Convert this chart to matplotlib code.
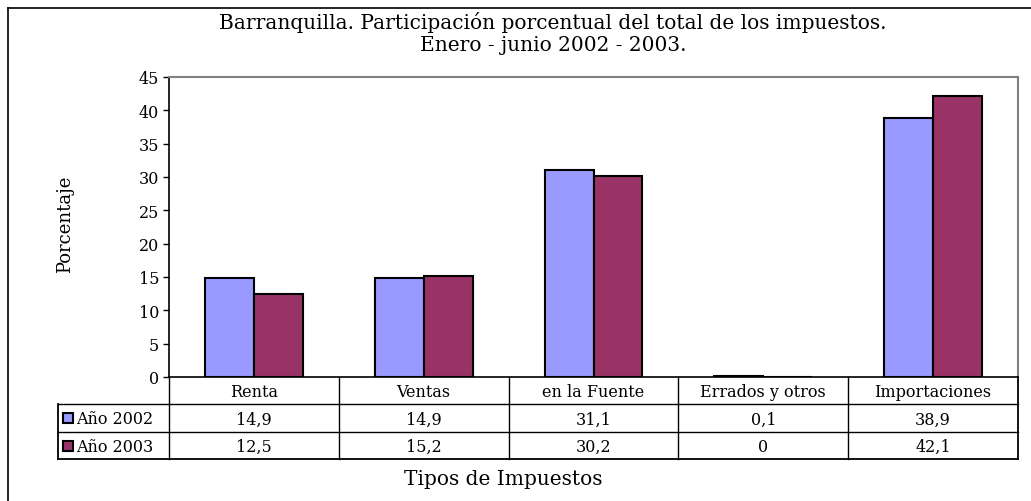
import matplotlib
matplotlib.use("Agg")
import matplotlib.pyplot as plt
from matplotlib.patches import Rectangle
from matplotlib.lines import Line2D
import numpy as np

categories = ["Renta", "Ventas", "en la Fuente", "Errados y otros", "Importaciones"]
series_names = ["Año 2002", "Año 2003"]
values_2002 = [14.9, 14.9, 31.1, 0.1, 38.9]
values_2003 = [12.5, 15.2, 30.2, 0.0, 42.1]
yticks = [0, 5, 10, 15, 20, 25, 30, 35, 40, 45]
title = "Barranquilla. Participación porcentual del total de los impuestos.\nEnero - junio 2002 - 2003."
ylabel = "Porcentaje"
xlabel = "Tipos de Impuestos"
colors = ["#9999FF", "#993366"]

W, H = 1031, 502
plt.rcParams['font.family'] = ['DejaVu Serif']
fig = plt.figure(figsize=(W / 100, H / 100), dpi=100)

def fx(px):
    return px / W

def fy(py):
    return 1 - py / H

# outer frame (right/bottom cut off in the reference)
fig.add_artist(Line2D([fx(8), fx(8)], [fy(9), fy(H + 5)], color="black", lw=1.2, transform=fig.transFigure))
fig.add_artist(Line2D([fx(8), fx(W + 5)], [fy(9), fy(9)], color="black", lw=1.2, transform=fig.transFigure))

ax_l, ax_r, ax_t, ax_b = 169, 1018, 78, 378
ax = fig.add_axes([fx(ax_l), fy(ax_b), fx(ax_r - ax_l), (ax_b - ax_t) / H])

x = np.arange(len(categories))
bw = 0.288
ax.bar(x - bw / 2, values_2002, bw, color=colors[0], edgecolor="black", linewidth=1.5, zorder=3)
ax.bar(x + bw / 2, values_2003, bw, color=colors[1], edgecolor="black", linewidth=1.5, zorder=3)
ax.set_xlim(-0.5, len(categories) - 0.5)
ax.set_ylim(0, 45)
ax.set_yticks(yticks)
ax.set_yticklabels([str(t) for t in yticks], fontsize=11.5)
ax.set_xticks([])
ax.tick_params(axis='y', direction='out', length=4, width=1, pad=3)
for s in ["top", "right"]:
    ax.spines[s].set_color("#808080")
    ax.spines[s].set_linewidth(1.5)
ax.spines["left"].set_color("black")
ax.spines["left"].set_linewidth(1.2)
ax.spines["bottom"].set_color("black")
ax.spines["bottom"].set_linewidth(1.2)

# title and axis labels
fig.text(fx(553), fy(34), title, ha="center", va="center", fontsize=14.5, linespacing=1.2)
fig.text(fx(65), fy(224), ylabel, ha="center", va="center", rotation=90, fontsize=13)
fig.text(fx(503), fy(480), xlabel, ha="center", va="center", fontsize=14.5)

# data table
row_y = [378, 405, 433, 460]
left_tab = 58
lc = "black"
def hline(x0, x1, y, lw=1.0, c=lc):
    fig.add_artist(Line2D([fx(x0), fx(x1)], [fy(y), fy(y)], color=c, lw=lw, transform=fig.transFigure))
def vline(xp, y0, y1, lw=1.0, c=lc):
    fig.add_artist(Line2D([fx(xp), fx(xp)], [fy(y0), fy(y1)], color=c, lw=lw, transform=fig.transFigure))

to_px = lambda v: ax.transData.transform((v, 0))[0]
bounds = [to_px(i - 0.5) for i in range(len(categories) + 1)]
hline(ax_l, ax_r, row_y[1])
hline(left_tab, ax_l, row_y[1])
hline(left_tab, ax_r, row_y[2])
hline(left_tab, ax_r, row_y[3], lw=1.3)
vline(left_tab, row_y[1], row_y[3], lw=1.3)
for b in bounds:
    vline(b, row_y[0], row_y[3], lw=1.0 if b < bounds[-1] else 1.3)

def fmt(v):
    s = ("%.1f" % v).replace(".", ",")
    if s.endswith(",0"):
        s = s[:-2]
    return s

fs_tab = 11.5
for i, c in enumerate(categories):
    cx = to_px(i)
    fig.text(fx(cx), fy((row_y[0] + row_y[1]) / 2 + 1), c, ha="center", va="center", fontsize=fs_tab)
    fig.text(fx(cx), fy((row_y[1] + row_y[2]) / 2 + 1), fmt(values_2002[i]), ha="center", va="center", fontsize=fs_tab)
    fig.text(fx(cx), fy((row_y[2] + row_y[3]) / 2 + 1), fmt(values_2003[i]), ha="center", va="center", fontsize=fs_tab)

for r, (name, col) in enumerate(zip(series_names, colors)):
    yc = (row_y[r + 1] + row_y[r + 2]) / 2
    fig.add_artist(Rectangle((fx(63), fy(yc + 5)), fx(10), 10 / H, facecolor=col, edgecolor="black",
                             lw=1.5, transform=fig.transFigure))
    fig.text(fx(76), fy(yc + 1), name, ha="left", va="center", fontsize=fs_tab)

fig.savefig("out.png", dpi=100)
